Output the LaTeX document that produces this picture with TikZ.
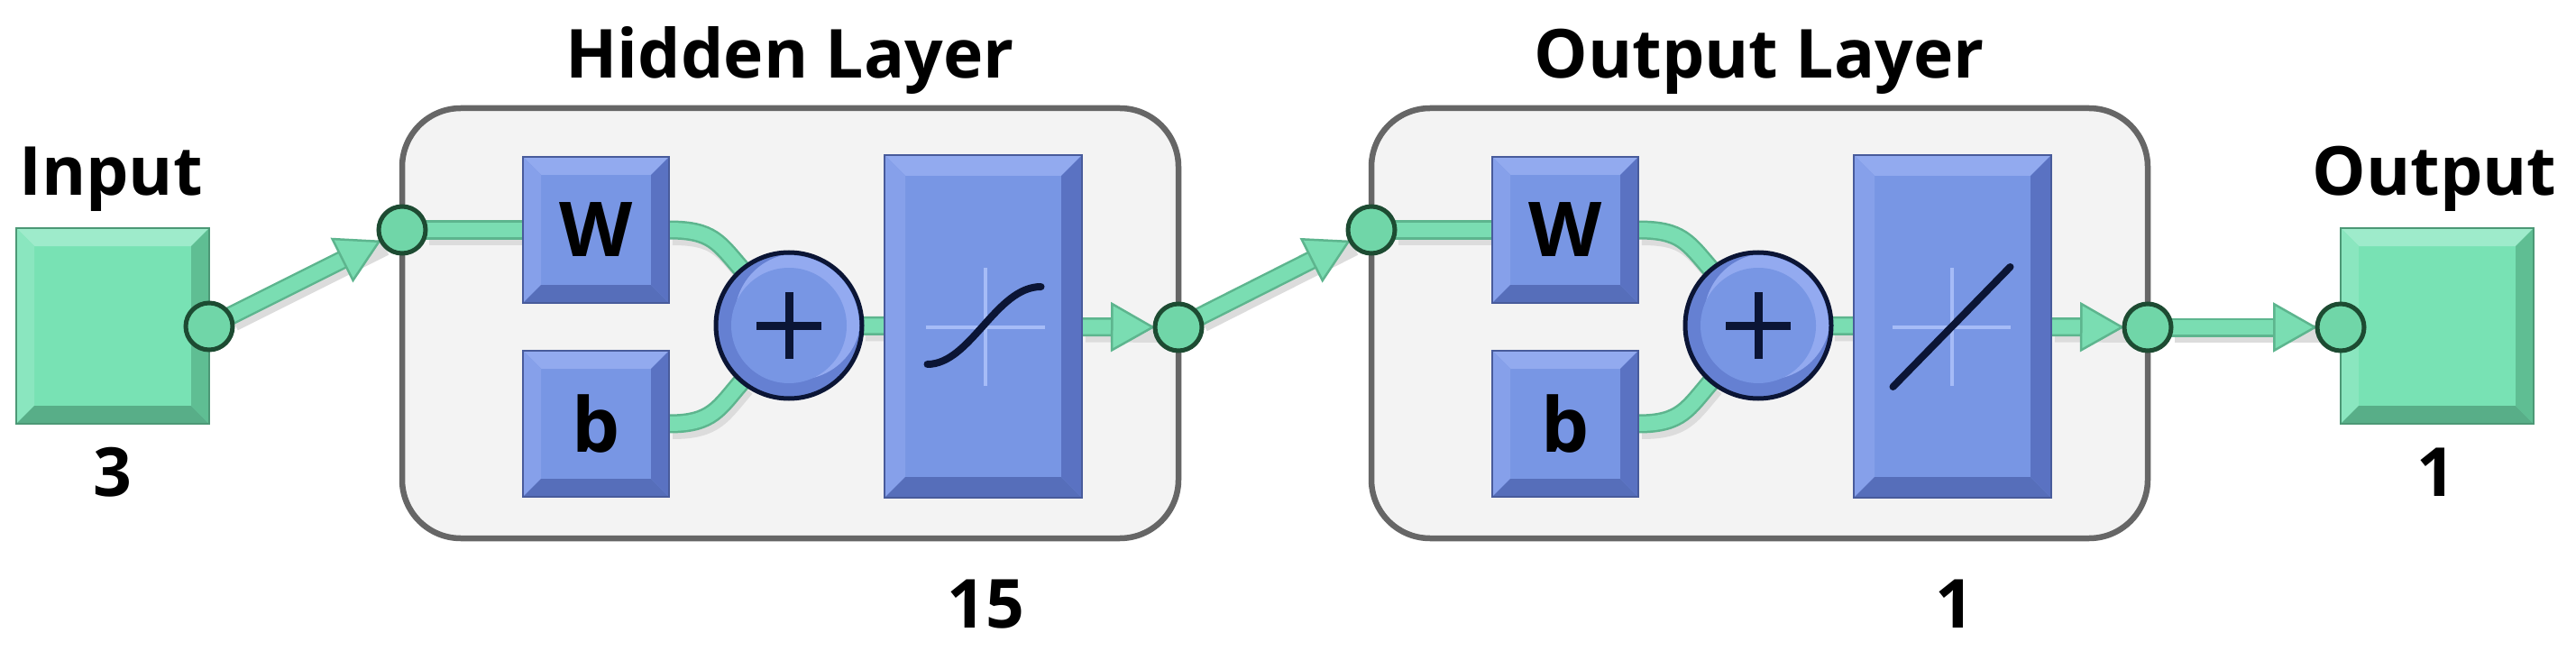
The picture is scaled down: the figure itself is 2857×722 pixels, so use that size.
\documentclass[tikz,border=0pt]{standalone}
\usepackage{fontspec}
\setmainfont{Open Sans}
\usetikzlibrary{calc,arrows.meta}
\pgfdeclarelayer{bg}
\pgfdeclarelayer{sh}
\pgfdeclarelayer{cn}
\pgfsetlayers{bg,sh,cn,main}
\definecolor{gB}{HTML}{78E2B4}
\definecolor{gT}{HTML}{9EEBCB}
\definecolor{gLf}{HTML}{8AE6BF}
\definecolor{gR}{HTML}{5FBE93}
\definecolor{gBo}{HTML}{58AE88}
\definecolor{gC}{HTML}{70D6A8}
\definecolor{gO}{HTML}{1D4B32}
\definecolor{gL}{HTML}{7ADDB2}
\definecolor{gE}{HTML}{5DB58E}
\definecolor{bB}{HTML}{7896E4}
\definecolor{bT}{HTML}{92AAEF}
\definecolor{bLf}{HTML}{86A0EA}
\definecolor{bR}{HTML}{5A72C2}
\definecolor{bBo}{HTML}{566EBA}
\definecolor{bD}{HTML}{6580D2}
\definecolor{bL}{HTML}{93AAF0}
\definecolor{xh}{HTML}{A6BCF7}
\definecolor{ink}{HTML}{0B1535}
\definecolor{lyF}{HTML}{F3F3F3}
\definecolor{lyD}{HTML}{666666}
\definecolor{shd}{HTML}{DCDCDC}
\newcommand\mybevel[6]{%
 \fill[#2] (#1.north west) -- (#1.north east) -- ($(#1.north east)+(-#6pt,-#6pt)$) -- ($(#1.north west)+(#6pt,-#6pt)$) -- cycle;
 \fill[#3] (#1.north west) -- (#1.south west) -- ($(#1.south west)+(#6pt,#6pt)$) -- ($(#1.north west)+(#6pt,-#6pt)$) -- cycle;
 \fill[#4] (#1.south west) -- (#1.south east) -- ($(#1.south east)+(-#6pt,#6pt)$) -- ($(#1.south west)+(#6pt,#6pt)$) -- cycle;
 \fill[#5] (#1.north east) -- (#1.south east) -- ($(#1.south east)+(-#6pt,#6pt)$) -- ($(#1.north east)+(-#6pt,-#6pt)$) -- cycle;
 \draw[#5!80!black, line width=2pt] (#1.north west) rectangle (#1.south east);
}
\newcommand\myplusring[1]{%
 \begin{scope}
  \clip (#1.center) circle[radius=78pt];
  \fill[bL] ($(#1.center)+(10pt,10pt)$) circle[radius=70pt];
  \fill[bB] (#1.center) circle[radius=64pt];
 \end{scope}
 \draw[ink, line width=9pt] ($(#1.center)+(-36pt,0pt)$) -- ($(#1.center)+(36pt,0pt)$);
 \draw[ink, line width=9pt] ($(#1.center)+(0pt,-37pt)$) -- ($(#1.center)+(0pt,37pt)$);
}
% #1 plain connector style, #2 arrow shaft style, #3 arrow tip style
\newcommand\allconns[3]{%
 \draw[#2] (inC) -- (hin); \draw[#3] (inC) -- (hin);
 \draw[#1] (hin) -- (hW);
 \draw[#1] (hW.east) .. controls +(48,0) and +(-26,-30) .. (hP.130);
 \draw[#1] (hb.east) .. controls +(48,0) and +(-26,30) .. (hP.230);
 \draw[#1] (hP) -- (hTF);
 \draw[#2] (hTF) -- (hout); \draw[#3] (hTF) -- (hout);
 \draw[#2] (hout) -- (oin); \draw[#3] (hout) -- (oin);
 \draw[#1] (oin) -- (oW);
 \draw[#1] (oW.east) .. controls +(48,0) and +(-26,-30) .. (oP.130);
 \draw[#1] (ob.east) .. controls +(48,0) and +(-26,30) .. (oP.230);
 \draw[#1] (oP) -- (oTF);
 \draw[#2] (oTF) -- (oout); \draw[#3] (oTF) -- (oout);
 \draw[#2] (oout) -- (outC); \draw[#3] (oout) -- (outC);
}
\begin{document}
\begin{tikzpicture}[x=1pt,y=-1pt,
  every node/.style={inner sep=0pt, outer sep=0pt},
  lbl/.style={font=\fontsize{75}{80}\selectfont\bfseries, anchor=base},
  gbox/.style={rectangle, fill=gB, minimum width=214pt, minimum height=217pt},
  wbox/.style={rectangle, fill=bB, minimum width=162pt, minimum height=162pt, font=\fontsize{84}{86}\selectfont\bfseries},
  tfbox/.style={rectangle, fill=bB, minimum width=219pt, minimum height=380pt},
  port/.style={circle, fill=gC, draw=gO, line width=5pt, minimum size=52pt},
  plusnode/.style={circle, fill=bD, draw=ink, line width=5pt, minimum size=162pt},
  layerbox/.style={rectangle, rounded corners=65pt, fill=lyF, draw=lyD, line width=6.5pt, minimum width=861pt, minimum height=477pt},
  conn/.style={draw=gE, line width=2.5pt, double=gL, double distance=16pt},
  arrshaft/.style={conn, shorten >=40pt},
  tipline/.style={draw=gL, line width=1pt, -{Triangle[length=49pt,width=55pt,line width=2.5pt,color=gE,fill=gL]}},
  shline/.style={draw=shd, line width=20pt},
  notip/.style={draw=none},
  xhair/.style={draw=xh, line width=4pt},
  curve/.style={draw=ink, line width=8pt, line cap=round}
  ]
\useasboundingbox (0,0) rectangle (2857,722);
\begin{pgfonlayer}{bg}
\fill[white] (0,0) rectangle (2857,722);
\node[layerbox] (hL) at (876.5,358.5) {};
\node[layerbox] (oL) at (1951.5,358.5) {};
\end{pgfonlayer}
% labels
\node[lbl] (inT) at (123,217) {Input};
\node[lbl] (outT) at (2700,217) {Output};
\node[lbl] (hT) at (876,87) {Hidden Layer};
\node[lbl] (oT) at (1951,87) {Output Layer};
\node[lbl] (inN) at (125,550) {3};
\node[lbl] (outN) at (2702,550) {1};
\node[lbl] (hN) at (1093,696) {15};
\node[lbl] (oN) at (2168,696) {1};
% input / output boxes
\node[gbox] (inB) at (125,361.5) {};
\mybevel{inB}{gT}{gLf}{gBo}{gR}{20}
\node[gbox] (outB) at (2703,361.5) {};
\mybevel{outB}{gT}{gLf}{gBo}{gR}{20}
% hidden layer
\node[wbox] (hW) at (661,255) {W};
\mybevel{hW}{bT}{bLf}{bBo}{bR}{20}
\node[wbox] (hb) at (661,470) {b};
\mybevel{hb}{bT}{bLf}{bBo}{bR}{20}
\node[plusnode] (hP) at (875,361) {};
\myplusring{hP}
\node[tfbox] (hTF) at (1090.5,362) {};
\mybevel{hTF}{bT}{bLf}{bBo}{bR}{23}
\begin{scope}[shift={(hTF.center)}]
 \draw[xhair] (2,-65) -- (2,66);
 \draw[xhair] (-64,1) -- (68,1);
 \draw[curve] (-62,42) .. controls (-14,42) and (14,-44) .. (64,-44);
\end{scope}
% output layer
\node[wbox] (oW) at (1736,255) {W};
\mybevel{oW}{bT}{bLf}{bBo}{bR}{20}
\node[wbox] (ob) at (1736,470) {b};
\mybevel{ob}{bT}{bLf}{bBo}{bR}{20}
\node[plusnode] (oP) at (1950,361) {};
\myplusring{oP}
\node[tfbox] (oTF) at (2165.5,362) {};
\mybevel{oTF}{bT}{bLf}{bBo}{bR}{23}
\begin{scope}[shift={(oTF.center)}]
 \draw[xhair] (-1,-65) -- (-1,66);
 \draw[xhair] (-67,1) -- (64,1);
 \draw[curve] (-66,67) -- (64,-66);
\end{scope}
% ports
\node[port] (inC) at (232,362) {};
\node[port] (hin) at (446,255) {};
\node[port] (hout) at (1307,363) {};
\node[port] (oin) at (1521,255) {};
\node[port] (oout) at (2382,363) {};
\node[port] (outC) at (2596,363) {};
% connectors
\begin{pgfonlayer}{sh}
\begin{scope}[transform canvas={shift={(4pt,-7pt)}}]
\allconns{shline}{shline}{notip}
\end{scope}
\end{pgfonlayer}
\begin{pgfonlayer}{cn}
\allconns{conn}{arrshaft}{tipline}
\end{pgfonlayer}
\end{tikzpicture}
\end{document}
